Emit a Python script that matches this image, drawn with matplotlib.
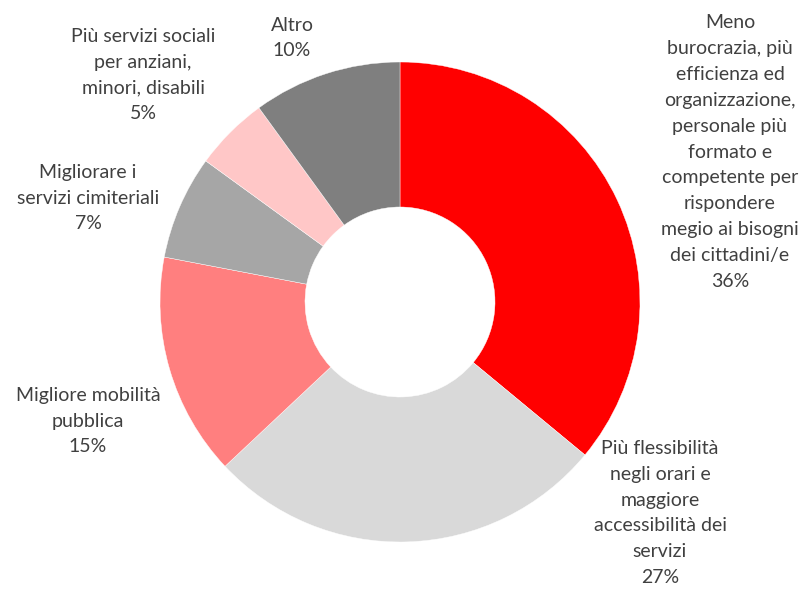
import matplotlib
matplotlib.use("Agg")
import matplotlib.pyplot as plt

labels = ["Meno\nburocrazia, più\nefficienza ed\norganizzazione,\npersonale più\nformato e\ncompetente per\nrispondere\nmegio ai bisogni\ndei cittadini/e",
          "Più flessibilità\nnegli orari e\nmaggiore\naccessibilità dei\nservizi",
          "Migliore mobilità\npubblica",
          "Migliorare i\nservizi cimiteriali",
          "Più servizi sociali\nper anziani,\nminori, disabili",
          "Altro"]
values = [36, 27, 15, 7, 5, 10]
colors = ["#FF0000", "#D9D9D9", "#FF7F7F", "#A6A6A6", "#FFC7C7", "#7F7F7F"]

# label anchor points (pixel space, y measured from top)
label_pos = [(730, 152), (660, 513), (88, 421), (88, 198), (143, 75), (292, 38)]

plt.rcParams['font.family'] = ['Lato', 'DejaVu Sans']

fig = plt.figure(figsize=(8, 5.92), dpi=100)
ax = fig.add_axes([0, 0, 1, 1])
ax.set_aspect('equal')
ax.axis('off')

ax.pie(values, colors=colors, startangle=90, counterclock=False,
       center=(400, 592 - 302), radius=240,
       wedgeprops=dict(width=145, edgecolor='white', linewidth=0.3))
ax.set_xlim(0, 800)
ax.set_ylim(0, 592)

for lab, v, (x, y) in zip(labels, values, label_pos):
    ax.text(x, 592 - y, "%s\n%d%%" % (lab, v), ha='center', va='center',
            fontsize=14, color='#404040', linespacing=1.63)

fig.savefig("out.png", dpi=100)
